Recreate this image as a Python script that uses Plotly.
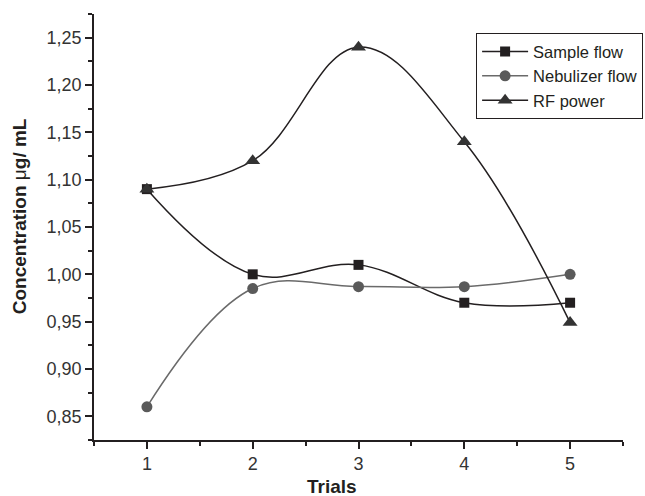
import plotly.graph_objects as go

trials = [1, 2, 3, 4, 5]
sample_flow = [1.09, 1.00, 1.01, 0.97, 0.97]
nebulizer_flow = [0.86, 0.985, 0.987, 0.987, 1.00]
rf_power = [1.09, 1.12, 1.24, 1.14, 0.949]

FONT = "Liberation Sans, Arial, sans-serif"

fig = go.Figure()
fig.add_trace(go.Scatter(
    x=trials, y=sample_flow, name="Sample flow", mode="lines+markers",
    line=dict(color="#231f20", width=1.5, shape="spline", smoothing=1.1),
    marker=dict(symbol="square", size=10, color="#231f20")))
fig.add_trace(go.Scatter(
    x=trials, y=nebulizer_flow, name="Nebulizer flow", mode="lines+markers",
    line=dict(color="#6a6a6a", width=1.5, shape="spline", smoothing=1.1),
    marker=dict(symbol="circle", size=11, color="#5a5a5a")))
fig.add_trace(go.Scatter(
    x=trials, y=rf_power, name="RF power", mode="lines+markers",
    line=dict(color="#231f20", width=1.5, shape="spline", smoothing=1.1),
    marker=dict(symbol="triangle-up", size=13, color="#333333")))

axis_common = dict(
    showline=True, linecolor="#231f20", linewidth=1.5, showgrid=False, zeroline=False,
    ticks="outside", ticklen=7, tickwidth=1.5, tickcolor="#231f20",
    tickfont=dict(family=FONT, size=18, color="#333333"),
    mirror=False, automargin=False,
)

fig.update_xaxes(
    **axis_common, range=[0.5, 5.5], tickvals=trials, ticktext=[str(t) for t in trials],
    minor=dict(ticks="outside", ticklen=4, tickwidth=1.5, tickcolor="#231f20",
               tickvals=[0.5, 1.5, 2.5, 3.5, 4.5, 5.5]),
)
fig.update_yaxes(
    **axis_common, range=[0.825, 1.275], tick0=0.85, dtick=0.05, tickformat=".2f",
    minor=dict(ticks="outside", ticklen=4, tickwidth=1.5, tickcolor="#231f20",
               tick0=0.825, dtick=0.05),
)

fig.add_annotation(
    text="<b>Trials</b>", xref="paper", yref="paper", x=0.45, y=-0.11,
    xanchor="center", yanchor="middle", showarrow=False,
    font=dict(family=FONT, size=19, color="#231f20"))
fig.add_annotation(
    text="<b>Concentration </b>μ<b>g/ mL</b>", xref="paper", yref="paper",
    x=-0.142, y=0.525, xanchor="center", yanchor="middle", textangle=-90,
    showarrow=False, font=dict(family=FONT, size=19, color="#231f20"))

fig.update_layout(
    width=645, height=496,
    margin=dict(l=94, r=22, t=14, b=56, autoexpand=False),
    paper_bgcolor="white", plot_bgcolor="white",
    separators=", ",
    showlegend=True,
    legend=dict(
        x=1.038, xanchor="right", y=0.955, yanchor="top",
        bordercolor="#231f20", borderwidth=1, bgcolor="white",
        font=dict(family=FONT, size=16.5, color="#231f20"),
        itemwidth=46, tracegroupgap=0,
    ),
)

fig.write_html("out.html")
